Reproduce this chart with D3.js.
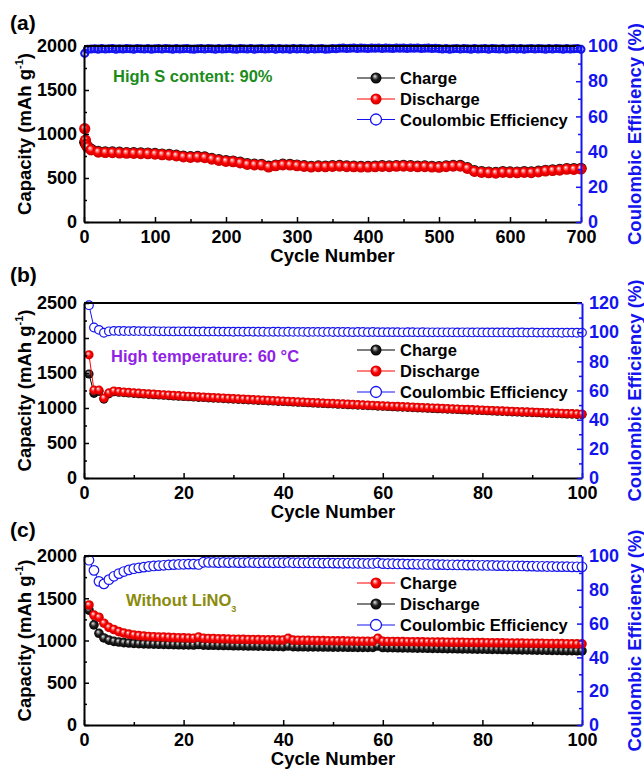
<!DOCTYPE html>
<html>
<head>
<meta charset="utf-8">
<script src="https://cdn.jsdelivr.net/npm/d3@7"></script>
<style>
  body { margin: 0; background: #fff; }
  text { font-family: "Liberation Sans", Arial, Helvetica, sans-serif; font-weight: bold; }
</style>
</head>
<body>
<div id="chart"></div>
<script>
// ---------- data ----------

// (a) 700 cycles, capacities sampled every 10 cycles
var capCyclesA = [1, 2, 3, 5, 10, 20, 30, 40, 50, 60, 70, 80, 90, 100, 110, 120, 130, 140, 150, 160,
  170, 180, 190, 200, 210, 220, 230, 240, 250, 260, 270, 280, 290, 300, 310, 320, 330, 340, 350, 360,
  370, 380, 390, 400, 410, 420, 430, 440, 450, 460, 470, 480, 490, 500, 510, 520, 530, 540, 550, 560,
  570, 580, 590, 600, 610, 620, 630, 640, 650, 660, 670, 680, 690, 700];
var dischargeA = [1060, 930, 880, 850, 820, 795, 790, 788, 785, 782, 780, 778, 776, 772, 765, 760, 752, 740, 735, 738,
  732, 715, 700, 690, 685, 672, 655, 650, 648, 625, 640, 650, 648, 640, 632, 625, 630, 628, 632, 635,
  630, 628, 625, 625, 628, 632, 630, 634, 636, 632, 628, 630, 625, 622, 630, 635, 635, 610, 575, 565,
  560, 555, 565, 562, 560, 565, 562, 570, 580, 585, 590, 600, 598, 603];
var chargeA = [905, 900, 875, 858, 828, 803, 798, 796, 793, 790, 788, 786, 784, 780, 773, 768, 760, 749, 743, 746,
  740, 723, 708, 698, 693, 680, 663, 658, 656, 634, 648, 658, 656, 648, 640, 633, 638, 636, 640, 643,
  638, 636, 633, 633, 636, 640, 638, 642, 644, 640, 636, 638, 633, 630, 638, 643, 643, 618, 583, 573,
  568, 563, 573, 570, 568, 573, 570, 578, 588, 593, 598, 608, 606, 611];
// coulombic efficiency every 5 cycles
var ceCyclesA = [1].concat(d3.range(5, 701, 5));
var ceA = [95.8,
  98.1, 98.3, 98.4, 98.2, 98.5, 98.3, 98.4, 98.6, 98.2, 98.4,
  98.3, 98.5, 98.4, 98.2, 98.6, 98.4, 98.3, 98.5, 98.2, 98.4,
  98.5, 98.3, 98.6, 98.4, 98.2, 98.5, 98.3, 98.4, 98.6, 98.3,
  98.2, 98.4, 98.5, 98.3, 98.6, 98.4, 98.2, 98.5, 98.3, 98.4,
  98.6, 98.3, 98.2, 98.5, 98.4, 98.3, 98.6, 98.2, 98.4, 98.5,
  98.3, 98.4, 98.6, 98.2, 98.5, 98.3, 98.4, 98.2, 98.6, 98.3,
  98.5, 98.4, 98.2, 98.6, 98.3, 98.4, 98.5, 98.2, 98.3, 98.6,
  98.4, 98.7, 98.8, 98.6, 98.7, 98.9, 98.6, 98.8, 98.7, 98.6,
  98.8, 98.7, 98.9, 98.6, 98.8, 98.7, 98.6, 98.9, 98.7, 98.8,
  98.6, 98.8, 98.7, 98.9, 98.6, 98.7, 98.8, 98.6, 98.7, 98.5,
  98.3, 98.5, 98.2, 98.4, 98.6, 98.3, 98.5, 98.4, 98.2, 98.6,
  98.3, 98.4, 98.5, 98.2, 98.6, 98.4, 98.3, 98.5, 98.2, 98.4,
  98.6, 98.3, 98.5, 98.2, 98.4, 98.6, 98.3, 98.5, 98.4, 98.2,
  98.5, 98.3, 98.6, 98.4, 98.2, 98.5, 98.3, 98.4, 98.6, 98.1];

// (b) and (c) 100 cycles, every cycle
var cycles100 = d3.range(1, 101);
var dischargeB = [1760, 1255, 1255, 1140, 1215, 1242, 1233, 1227, 1222, 1217,
  1212, 1207, 1202, 1198, 1193, 1189, 1184, 1180, 1176, 1171,
  1167, 1164, 1160, 1156, 1153, 1149, 1145, 1142, 1138, 1134,
  1131, 1127, 1124, 1120, 1117, 1113, 1110, 1106, 1102, 1099,
  1095, 1092, 1088, 1085, 1081, 1078, 1075, 1071, 1068, 1065,
  1061, 1058, 1054, 1051, 1048, 1044, 1041, 1038, 1034, 1031,
  1028, 1025, 1022, 1019, 1015, 1012, 1009, 1006, 1003, 1000,
  997, 994, 991, 988, 985, 982, 979, 976, 973, 970,
  967, 964, 961, 958, 955, 952, 949, 946, 944, 941,
  938, 935, 932, 930, 927, 924, 921, 919, 916, 913];
var chargeB = [1486, 1210, 1238, 1128, 1203, 1232, 1226, 1220, 1215, 1210,
  1205, 1200, 1196, 1191, 1187, 1182, 1178, 1173, 1169, 1165,
  1161, 1157, 1153, 1150, 1146, 1142, 1139, 1135, 1131, 1128,
  1124, 1121, 1117, 1114, 1110, 1107, 1103, 1100, 1096, 1093,
  1089, 1086, 1082, 1079, 1075, 1072, 1069, 1065, 1062, 1059,
  1055, 1052, 1048, 1045, 1042, 1038, 1035, 1032, 1028, 1025,
  1022, 1019, 1016, 1013, 1009, 1006, 1003, 1000, 997, 994,
  991, 988, 985, 982, 979, 976, 973, 970, 967, 964,
  961, 958, 955, 952, 949, 946, 943, 940, 938, 935,
  932, 929, 926, 924, 921, 918, 915, 913, 910, 907];
var ceB = [118.5, 103.2, 101.6, 99.6, 100.6, 100.9, 100.8, 100.8, 100.7, 100.8,
  100.7, 100.7, 100.6, 100.7, 100.6, 100.6, 100.6, 100.5, 100.6, 100.5,
  100.5, 100.5, 100.4, 100.5, 100.4, 100.5, 100.4, 100.4, 100.4, 100.3,
  100.4, 100.3, 100.4, 100.3, 100.3, 100.3, 100.2, 100.3, 100.3, 100.2,
  100.3, 100.2, 100.2, 100.2, 100.1, 100.2, 100.2, 100.1, 100.2, 100.1,
  100.1, 100.1, 100.1, 100.0, 100.1, 100.1, 100.0, 100.1, 100.0, 100.0,
  100.0, 100.0, 100.0, 99.9, 100.0, 100.0, 99.9, 100.0, 99.9, 99.9,
  99.9, 99.9, 99.9, 99.9, 99.8, 99.9, 99.9, 99.8, 99.9, 99.8,
  99.8, 99.8, 99.8, 99.8, 99.8, 99.7, 99.8, 99.8, 99.7, 99.8,
  99.7, 99.7, 99.7, 99.7, 99.7, 99.6, 99.7, 99.7, 99.6, 99.7];

var chargeC = [1420, 1300, 1275, 1205, 1155, 1130, 1105, 1088, 1075, 1065,
  1058, 1052, 1048, 1045, 1042, 1040, 1037, 1035, 1033, 1031,
  1029, 1027, 1040, 1026, 1024, 1022, 1020, 1019, 1017, 1015,
  1014, 1013, 1012, 1011, 1010, 1009, 1008, 1007, 1006, 1006,
  1025, 1004, 1003, 1002, 1001, 1000, 999, 998, 997, 996,
  995, 995, 994, 993, 992, 991, 991, 990, 1025, 990,
  989, 988, 987, 987, 986, 985, 984, 984, 983, 982,
  981, 981, 980, 979, 978, 978, 977, 976, 975, 975,
  974, 973, 972, 972, 971, 970, 969, 969, 968, 967,
  966, 966, 965, 964, 963, 963, 962, 961, 960, 960];
var dischargeC = [1360, 1185, 1085, 1030, 1005, 990, 982, 975, 970, 965,
  962, 960, 958, 956, 955, 953, 952, 950, 949, 948,
  947, 946, 952, 945, 944, 943, 942, 941, 940, 938,
  937, 936, 935, 935, 934, 933, 932, 931, 930, 928,
  935, 927, 926, 926, 925, 925, 924, 923, 923, 922,
  921, 921, 920, 920, 919, 919, 918, 918, 935, 917,
  916, 915, 914, 913, 912, 911, 910, 909, 908, 907,
  906, 905, 904, 903, 902, 901, 900, 899, 898, 897,
  896, 895, 894, 893, 892, 891, 890, 889, 888, 887,
  886, 885, 884, 883, 882, 881, 880, 879, 878, 877];
var ceC = [97.5, 91.5, 85.0, 83.5, 86.0, 88.0, 89.6, 90.8, 91.8, 92.5,
  93.0, 93.4, 93.8, 94.1, 94.3, 94.5, 94.7, 94.9, 95.0, 95.1,
  95.2, 95.2, 95.0, 96.3, 96.2, 96.2, 96.1, 96.2, 96.1, 96.2,
  96.1, 96.1, 96.2, 96.1, 96.0, 96.1, 96.1, 96.0, 96.1, 96.0,
  96.2, 96.0, 96.0, 95.9, 96.0, 95.9, 95.9, 95.8, 95.9, 95.8,
  95.8, 95.7, 95.8, 95.7, 95.7, 95.6, 95.6, 95.6, 95.9, 95.5,
  95.4, 95.4, 95.3, 95.3, 95.2, 95.2, 95.1, 95.1, 95.0, 95.0,
  94.9, 94.9, 94.8, 94.8, 94.7, 94.7, 94.6, 94.6, 94.5, 94.5,
  94.4, 94.4, 94.3, 94.3, 94.2, 94.2, 94.1, 94.1, 94.0, 94.0,
  93.9, 93.9, 93.8, 93.8, 93.7, 93.7, 93.7, 93.6, 93.6, 93.6];

// ---------- drawing ----------
var BLUE = "#1414f0";
var FONT = '"Liberation Sans", Arial, Helvetica, sans-serif';

var svg = d3.select("#chart").append("svg").attr("width", 644).attr("height", 776);
var defs = svg.append("defs");

// shaded balls
function ball(id, stops) {
  var grad = defs.append("radialGradient").attr("id", id)
    .attr("cx", "50%").attr("cy", "50%").attr("r", "55%")
    .attr("fx", "38%").attr("fy", "32%");
  stops.forEach(function (s) {
    grad.append("stop").attr("offset", s[0]).attr("stop-color", s[1]);
  });
}
ball("ballRed", [[0, "#ffffff"], [0.22, "#ff8080"], [0.5, "#ff0000"], [1, "#c00000"]]);
ball("ballBlack", [[0, "#f4f4f4"], [0.22, "#8a8a8a"], [0.5, "#1e1e1e"], [1, "#000000"]]);

var styles = {
  red: { line: "#ff0000", fill: "url(#ballRed)", stroke: "none" },
  black: { line: "#000000", fill: "url(#ballBlack)", stroke: "none" },
  blue: { line: BLUE, fill: "#ffffff", stroke: BLUE }
};

var panels = [
  {
    label: "(a)", labelY: 30, top: 46, bottom: 222, left: 84, right: 581,
    xMax: 700, xStep: 100, yMax: 2000, yStep: 500, y2Max: 100, y2Step: 20,
    series: [
      { x: capCyclesA, y: chargeA, style: "black", r: 5.6 },
      { x: capCyclesA, y: dischargeA, style: "red", r: 5.6 },
      { x: ceCyclesA, y: ceA, style: "blue", r: 3.5, right: true, hollow: true }
    ],
    legend: [["Charge", "black"], ["Discharge", "red"], ["Coulombic Efficiency", "blue"]],
    legendY: [78, 99, 119.5],
    note: { text: "High S content: 90%", x: 113, y: 82, color: "#1b8c1b" }
  },
  {
    label: "(b)", labelY: 282, top: 303, bottom: 478, left: 84, right: 582,
    xMax: 100, xStep: 20, yMax: 2500, yStep: 500, y2Max: 120, y2Step: 20,
    series: [
      { x: cycles100, y: chargeB, style: "black", r: 4.6 },
      { x: cycles100, y: dischargeB, style: "red", r: 4.6 },
      { x: cycles100, y: ceB, style: "blue", r: 4.3, right: true }
    ],
    legend: [["Charge", "black"], ["Discharge", "red"], ["Coulombic Efficiency", "blue"]],
    legendY: [350, 371, 392],
    note: { text: "High temperature: 60 \u00B0C", x: 111, y: 362, color: "#9022e6" }
  },
  {
    label: "(c)", labelY: 537, top: 556, bottom: 725, left: 84, right: 582,
    xMax: 100, xStep: 20, yMax: 2000, yStep: 500, y2Max: 100, y2Step: 20,
    series: [
      { x: cycles100, y: dischargeC, style: "black", r: 4.8 },
      { x: cycles100, y: chargeC, style: "red", r: 4.8 },
      { x: cycles100, y: ceC, style: "blue", r: 4.8, right: true }
    ],
    legend: [["Charge", "red"], ["Discharge", "black"], ["Coulombic Efficiency", "blue"]],
    legendY: [583, 604, 625],
    note: { text: "Without LiNO", sub: "3", x: 126, y: 606, color: "#8a8a0c" }
  }
];

function styleAxis(sel, color) {
  sel.attr("font-family", FONT).attr("font-size", 18).attr("font-weight", "bold");
  sel.select(".domain").attr("stroke", color).attr("stroke-width", 2);
  sel.selectAll(".tick line").attr("stroke", color).attr("stroke-width", 1.5);
  sel.selectAll(".tick text").attr("fill", color);
}

var fmt = d3.format("d");

panels.forEach(function (p) {
  var x = d3.scaleLinear().domain([0, p.xMax]).range([p.left, p.right]);
  var y = d3.scaleLinear().domain([0, p.yMax]).range([p.bottom, p.top]);
  var y2 = d3.scaleLinear().domain([0, p.y2Max]).range([p.bottom, p.top]);
  var g = svg.append("g");

  // series: thin connecting line + markers
  p.series.forEach(function (s) {
    var st = styles[s.style];
    var ys = s.right ? y2 : y;
    var pts = s.x.map(function (c, i) { return { c: c, v: s.y[i] }; });
    g.append("path")
      .datum(pts)
      .attr("fill", "none")
      .attr("stroke", st.line)
      .attr("stroke-width", 1)
      .attr("d", d3.line().x(function (d) { return x(d.c); }).y(function (d) { return ys(d.v); }));
    g.selectAll(null)
      .data(pts)
      .enter()
      .append("circle")
      .attr("cx", function (d) { return x(d.c); })
      .attr("cy", function (d) { return ys(d.v); })
      .attr("r", s.r)
      .attr("fill", s.hollow ? "none" : st.fill)
      .attr("stroke", st.stroke)
      .attr("stroke-width", s.style === "blue" ? (s.hollow ? 2.1 : 1.2) : 0);
  });

  // minor ticks
  var minorX = d3.range(p.xStep / 2, p.xMax, p.xStep);
  var minorY = d3.range(p.yStep / 2, p.yMax, p.yStep);
  var minorY2 = d3.range(p.y2Step / 2, p.y2Max, p.y2Step);

  g.append("g").attr("transform", "translate(0," + p.bottom + ")")
    .call(d3.axisBottom(x).tickValues(minorX).tickSize(-3).tickFormat(""))
    .call(function (a) { a.select(".domain").remove(); a.selectAll("line").attr("stroke-width", 1.5); });
  g.append("g").attr("transform", "translate(" + p.left + ",0)")
    .call(d3.axisLeft(y).tickValues(minorY).tickSize(-3).tickFormat(""))
    .call(function (a) { a.select(".domain").remove(); a.selectAll("line").attr("stroke-width", 1.5); });
  g.append("g").attr("transform", "translate(" + p.right + ",0)")
    .call(d3.axisRight(y2).tickValues(minorY2).tickSize(-3).tickFormat(""))
    .call(function (a) { a.select(".domain").remove(); a.selectAll("line").attr("stroke", BLUE).attr("stroke-width", 1.5); });

  // top frame line
  g.append("line")
    .attr("x1", p.left).attr("x2", p.right)
    .attr("y1", p.top).attr("y2", p.top)
    .attr("stroke", "#000").attr("stroke-width", 2);

  // major axes
  g.append("g").attr("transform", "translate(0," + p.bottom + ")")
    .call(d3.axisBottom(x).tickValues(d3.range(0, p.xMax + 1, p.xStep)).tickFormat(fmt)
      .tickSize(-5).tickSizeOuter(0).tickPadding(8))
    .call(styleAxis, "#000");
  g.append("g").attr("transform", "translate(" + p.left + ",0)")
    .call(d3.axisLeft(y).tickValues(d3.range(0, p.yMax + 1, p.yStep)).tickFormat(fmt)
      .tickSize(-5).tickSizeOuter(0).tickPadding(7))
    .call(styleAxis, "#000");
  g.append("g").attr("transform", "translate(" + p.right + ",0)")
    .call(d3.axisRight(y2).tickValues(d3.range(0, p.y2Max + 1, p.y2Step)).tickFormat(fmt)
      .tickSize(-5).tickSizeOuter(0).tickPadding(7))
    .call(styleAxis, BLUE);

  var midY = (p.top + p.bottom) / 2;

  // axis titles
  g.append("text")
    .attr("x", (p.left + p.right) / 2)
    .attr("y", p.bottom + 40)
    .attr("text-anchor", "middle")
    .style("font-size", "18.5px")
    .text("Cycle Number");

  var lt = g.append("text")
    .attr("transform", "translate(31," + midY + ") rotate(-90)")
    .attr("text-anchor", "middle")
    .style("font-size", "18.5px");
  lt.append("tspan").text("Capacity (mAh g");
  lt.append("tspan").attr("dy", -8).style("font-size", "11px").text("-1");
  lt.append("tspan").attr("dy", 8).text(")");

  g.append("text")
    .attr("transform", "translate(641," + midY + ") rotate(-90)")
    .attr("text-anchor", "middle")
    .attr("fill", BLUE)
    .style("font-size", "18.5px")
    .text("Coulombic Efficiency (%)");

  // panel label
  g.append("text")
    .attr("x", 10).attr("y", p.labelY)
    .style("font-size", "21px")
    .text(p.label);

  // legend
  p.legend.forEach(function (item, i) {
    var st = styles[item[1]];
    var ly = p.legendY[i];
    g.append("line")
      .attr("x1", 357).attr("x2", 395).attr("y1", ly).attr("y2", ly)
      .attr("stroke", st.line).attr("stroke-width", 1.2);
    g.append("circle")
      .attr("cx", 376).attr("cy", ly).attr("r", 5.5)
      .attr("fill", st.fill).attr("stroke", st.stroke).attr("stroke-width", 1.3);
    g.append("text")
      .attr("x", 400).attr("y", ly + 6)
      .style("font-size", "16.5px")
      .text(item[0]);
  });

  // annotation
  var nt = g.append("text")
    .attr("x", p.note.x).attr("y", p.note.y)
    .attr("fill", p.note.color)
    .style("font-size", "16.5px");
  nt.append("tspan").text(p.note.text);
  if (p.note.sub) {
    nt.append("tspan").attr("dy", 6).style("font-size", "9px").text(p.note.sub);
  }
});
</script>
</body>
</html>
